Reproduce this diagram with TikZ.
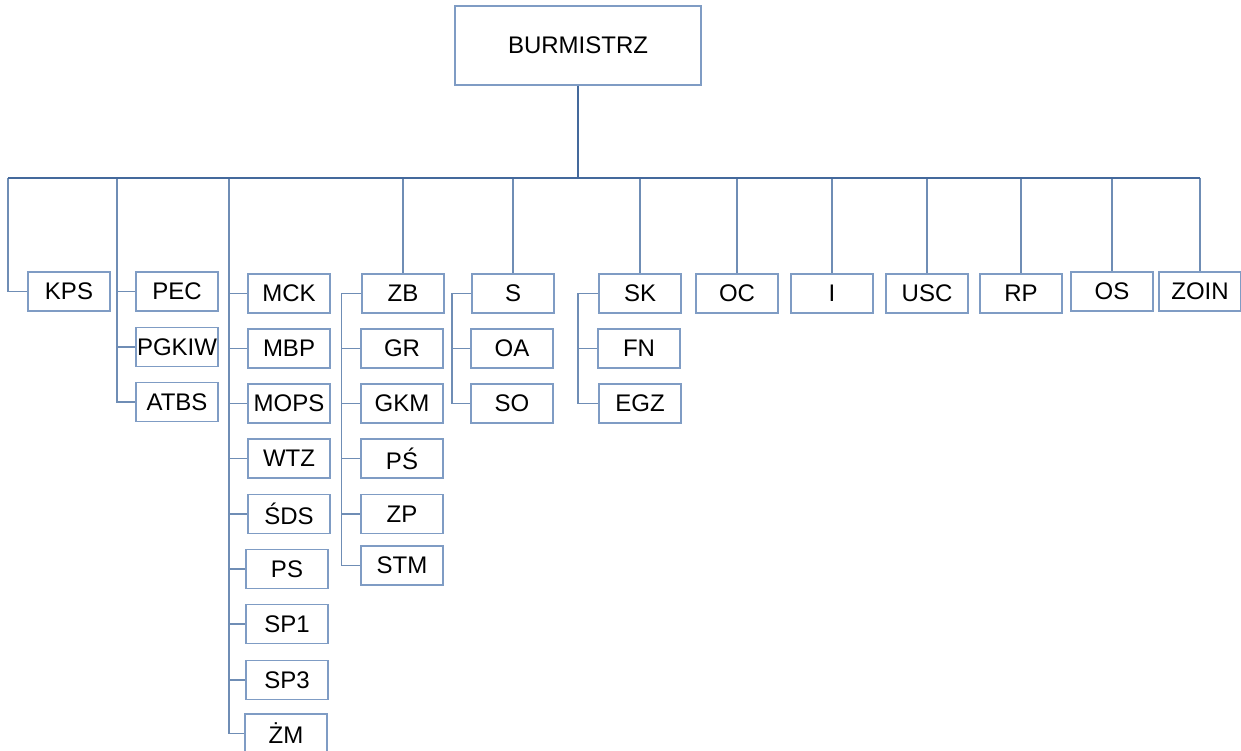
\documentclass[tikz,border=0pt]{standalone}
\usepackage{fontspec}
\setmainfont{Liberation Sans}
\definecolor{busc}{HTML}{44699C}
\definecolor{linec}{HTML}{6F8DB5}
\definecolor{boxc}{HTML}{7F9CC4}
\begin{document}
\begin{tikzpicture}[x=1pt,y=-1pt,
  unit/.style={draw=boxc,line width=1.2pt,fill=white,minimum width=82pt,minimum height=39pt,inner sep=0pt,
    font=\fontsize{24}{26}\selectfont,text=black},
  head/.style={unit,minimum width=246pt,minimum height=79pt},
  conn/.style={draw=linec,line width=1.4pt},
  busline/.style={draw=busc,line width=2pt}]
\useasboundingbox (0,0) rectangle (1241,751);
% nodes
\node[head] (B) at (578,45.5) {BURMISTRZ};
\node[unit] (KPS) at (69,291.5) {KPS};
\node[unit] (PEC) at (177,291.5) {PEC};
\node[unit] (PGKIW) at (177,347) {PGKIW};
\node[unit] (ATBS) at (177,402) {ATBS};
\node[unit] (MCK) at (289,293.5) {MCK};
\node[unit] (MBP) at (289,348.5) {MBP};
\node[unit] (MOPS) at (289,403.5) {MOPS};
\node[unit] (WTZ) at (289,458.5) {WTZ};
\node[unit] (SDS) at (289,514) {ŚDS};
\node[unit] (PS) at (287,569) {PS};
\node[unit] (SP1) at (287,624) {SP1};
\node[unit] (SP3) at (287,680) {SP3};
\node[unit] (ZM) at (286,733.5) {ŻM};
\node[unit] (ZB) at (403,293.5) {ZB};
\node[unit] (GR) at (402,348.5) {GR};
\node[unit] (GKM) at (402,403.5) {GKM};
\node[unit] (PSa) at (402,458.5) {PŚ};
\node[unit] (ZP) at (402,514) {ZP};
\node[unit] (STM) at (402,565.5) {STM};
\node[unit] (S) at (513,293.5) {S};
\node[unit] (OA) at (512,348.5) {OA};
\node[unit] (SO) at (512,403.5) {SO};
\node[unit] (SK) at (640,293.5) {SK};
\node[unit] (FN) at (639,348.5) {FN};
\node[unit] (EGZ) at (640,403.5) {EGZ};
\node[unit] (OC) at (737,293.5) {OC};
\node[unit] (I) at (832,293.5) {I};
\node[unit] (USC) at (927,293.5) {USC};
\node[unit] (RP) at (1021,293.5) {RP};
\node[unit] (OS) at (1112,291.5) {OS};
\node[unit] (ZOIN) at (1200,291.5) {ZOIN};
% bus coordinates
\coordinate (busL) at (8,178);
\coordinate (busR) at (1200,178);
\coordinate (pecT) at (117,178);
\coordinate (mckT) at (229,178);
% connectors
\draw[conn] (busL) |- (KPS.west);
\draw[conn] (pecT) |- (ATBS.west);
\draw[conn] (pecT |- PEC.west) -- (PEC.west);
\draw[conn] (pecT |- PGKIW.west) -- (PGKIW.west);
\draw[conn] (mckT) |- (ZM.west);
\foreach \n in {MCK,MBP,MOPS,WTZ,SDS,PS,SP1,SP3}
  \draw[conn] (mckT |- \n.west) -- (\n.west);
\draw[conn] (ZB.north |- busL) -- (ZB.north);
\coordinate (zbL) at ([xshift=-20pt]ZB.west);
\draw[conn] (ZB.west) -- (zbL) |- (STM.west);
\foreach \n in {GR,GKM,PSa,ZP}
  \draw[conn] (zbL |- \n.west) -- (\n.west);
\draw[conn] (S.north |- busL) -- (S.north);
\coordinate (sL) at (452,293.5);
\draw[conn] (S.west) -- (sL) |- (SO.west);
\draw[conn] (sL |- OA.west) -- (OA.west);
\draw[conn] (SK.north |- busL) -- (SK.north);
\coordinate (skL) at (578,293.5);
\draw[conn] (SK.west) -- (skL) |- (EGZ.west);
\draw[conn] (skL |- FN.west) -- (FN.west);
\foreach \n in {OC,I,USC,RP,OS,ZOIN}
  \draw[conn] (\n.north |- busL) -- (\n.north);
\draw[busline] (B.south) -- (B.south |- busL);
\draw[busline] (busL) -- (busR);
\end{tikzpicture}
\end{document}
